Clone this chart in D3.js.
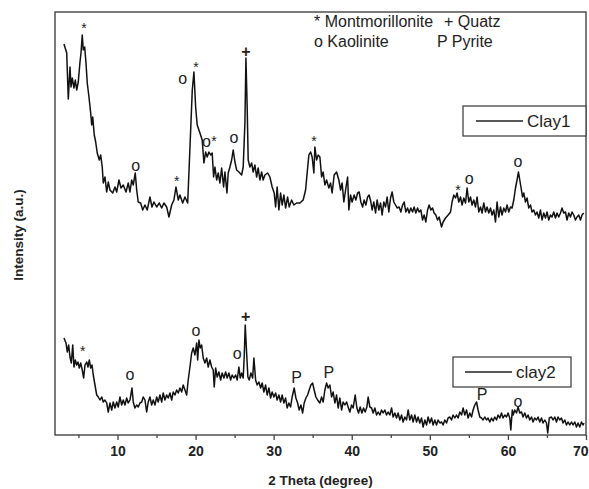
<!DOCTYPE html>
<html>
<head>
<meta charset="utf-8">
<script src="https://cdn.jsdelivr.net/npm/d3@7/dist/d3.min.js"></script>
<style>
  body { margin: 0; background: #fff; }
  svg text { font-family: Arial, "Liberation Sans", sans-serif; fill: #222; }
</style>
</head>
<body>
<div id="chart"></div>
<script>
// XRD pattern, 2 theta vs intensity (a.u.)
var clay1 = [
  [3.15,391],[3.50,382],[3.70,336],[3.92,368],[4.05,348],[4.21,357],[4.43,347],[4.60,355],[4.78,345],[4.98,353],
  [5.20,373],[5.33,382],[5.49,400],[5.62,385],[5.80,388],[5.97,372],[6.13,352],[6.35,338],[6.57,322],[6.70,310],
  [6.83,318],[7.03,300],[7.21,293],[7.41,282],[7.67,275],[7.85,280],[8.05,268],[8.18,252],[8.40,258],[8.62,243],
  [8.82,253],[9.04,245],[9.39,242],[9.68,248],[9.90,243],[10.19,255],[10.45,247],[10.74,250],[11.09,243],[11.38,252],
  [11.60,243],[11.82,255],[12.02,250],[12.28,262],[12.46,245],[12.66,233],[12.97,232],[13.23,225],[13.52,230],[13.81,225],
  [14.16,238],[14.42,228],[14.67,233],[15.02,228],[15.35,232],[15.66,227],[15.95,232],[16.30,228],[16.59,218],[16.94,230],
  [17.23,235],[17.49,248],[17.79,235],[18.00,240],[18.35,232],[18.64,238],[18.99,232],[19.15,262],[19.41,312],[19.58,345],
  [19.79,363],[20.01,328],[20.21,310],[20.56,302],[20.85,295],[21.07,272],[21.29,283],[21.49,278],[21.71,283],[21.93,280],
  [22.13,282],[22.31,258],[22.48,268],[22.70,255],[22.90,262],[23.12,252],[23.34,267],[23.59,248],[23.76,263],[24.02,242],
  [24.18,262],[24.40,268],[24.62,275],[24.82,285],[25.04,273],[25.26,265],[25.55,263],[25.90,260],[26.10,268],[26.32,312],
  [26.45,377],[26.61,328],[26.74,275],[26.96,268],[27.18,272],[27.38,263],[27.60,270],[27.82,258],[28.02,267],[28.24,255],
  [28.46,263],[28.66,255],[28.88,260],[29.23,262],[29.52,258],[29.81,248],[30.07,242],[30.25,228],[30.45,248],[30.67,225],
  [30.89,242],[31.09,230],[31.31,240],[31.53,227],[31.79,238],[31.99,228],[32.30,235],[32.59,230],[32.94,232],[33.36,232],
  [33.78,235],[34.09,245],[34.29,262],[34.51,280],[34.73,283],[34.93,278],[35.15,262],[35.28,288],[35.50,275],[35.70,280],
  [35.92,278],[36.14,258],[36.34,263],[36.56,250],[36.78,255],[37.07,247],[37.29,252],[37.49,242],[37.75,260],[38.06,263],
  [38.35,255],[38.57,245],[38.77,252],[38.99,233],[39.25,247],[39.47,258],[39.63,225],[39.85,240],[40.05,233],[40.31,240],
  [40.53,235],[40.75,242],[40.95,243],[41.17,233],[41.39,228],[41.59,235],[41.81,230],[42.03,238],[42.23,240],[42.45,233],
  [42.61,225],[42.83,233],[43.05,222],[43.25,235],[43.47,225],[43.69,232],[43.89,220],[44.11,233],[44.33,228],[44.53,238],
  [44.75,223],[44.97,237],[45.17,243],[45.39,233],[45.61,230],[45.81,227],[46.07,228],[46.29,223],[46.51,230],[46.71,233],
  [46.93,223],[47.15,227],[47.35,222],[47.57,227],[47.79,223],[47.99,228],[48.21,222],[48.43,227],[48.63,223],[48.85,225],
  [49.07,215],[49.27,220],[49.49,213],[49.71,225],[49.91,230],[50.13,225],[50.35,227],[50.55,222],[50.77,220],[50.99,215],
  [51.19,218],[51.50,208],[51.70,213],[52.01,217],[52.35,220],[52.65,223],[52.85,233],[53.07,240],[53.29,237],[53.49,242],
  [53.71,233],[53.93,238],[54.13,230],[54.35,237],[54.57,232],[54.77,247],[54.99,233],[55.21,238],[55.41,230],[55.63,235],
  [55.85,228],[56.05,238],[56.27,223],[56.49,228],[56.69,222],[56.91,232],[57.13,223],[57.33,228],[57.55,222],[57.77,227],
  [57.97,220],[58.19,225],[58.41,213],[58.61,233],[58.83,218],[59.05,228],[59.25,220],[59.47,227],[59.69,223],[59.89,230],
  [60.11,223],[60.33,228],[60.53,227],[60.75,235],[60.97,247],[61.17,255],[61.35,263],[61.52,255],[61.69,247],[61.87,238],
  [62.03,242],[62.25,233],[62.45,237],[62.67,227],[62.89,230],[63.09,223],[63.31,225],[63.53,220],[63.73,223],[63.95,217],
  [64.17,225],[64.37,215],[64.59,222],[64.81,217],[65.01,223],[65.23,215],[65.45,220],[65.65,218],[65.87,223],[66.09,217],
  [66.29,222],[66.51,218],[66.73,222],[66.93,227],[67.15,222],[67.37,223],[67.57,215],[67.79,222],[68.01,218],[68.21,223],
  [68.43,220],[68.65,215],[68.85,218],[69.07,220],[69.29,215],[69.49,220],[69.71,222]
];

var clay2 = [
  [3.15,97],[3.41,92],[3.57,83],[3.75,90],[3.92,78],[4.09,72],[4.27,90],[4.43,68],[4.60,75],[4.78,70],
  [4.94,73],[5.11,67],[5.29,72],[5.49,65],[5.67,57],[5.84,70],[6.06,73],[6.22,68],[6.39,75],[6.57,67],
  [6.74,70],[6.90,60],[7.12,50],[7.34,40],[7.54,38],[7.76,35],[7.98,38],[8.18,33],[8.40,35],[8.62,32],
  [8.82,23],[9.04,32],[9.26,25],[9.46,33],[9.68,27],[9.90,33],[10.10,28],[10.32,38],[10.54,30],[10.74,35],
  [10.96,30],[11.18,37],[11.38,32],[11.60,35],[11.86,47],[12.02,33],[12.24,27],[12.46,30],[12.66,28],[12.88,32],
  [13.10,33],[13.30,38],[13.52,35],[13.74,23],[13.94,33],[14.16,38],[14.38,30],[14.58,35],[14.80,30],[15.02,38],
  [15.22,33],[15.44,40],[15.66,33],[15.86,42],[16.08,35],[16.30,40],[16.50,37],[16.72,42],[16.94,35],[17.14,43],
  [17.36,40],[17.58,45],[17.78,42],[18.00,47],[18.22,43],[18.42,50],[18.64,45],[18.86,40],[19.06,55],[19.28,68],
  [19.50,82],[19.70,87],[19.92,80],[20.14,92],[20.27,75],[20.43,95],[20.60,87],[20.78,90],[20.98,77],[21.20,72],
  [21.42,77],[21.62,68],[21.84,75],[22.06,68],[22.26,65],[22.39,48],[22.57,67],[22.77,58],[22.99,63],[23.21,55],
  [23.41,62],[23.63,57],[23.85,63],[24.05,57],[24.27,62],[24.49,55],[24.69,60],[24.91,57],[25.13,60],[25.33,55],
  [25.55,68],[25.72,57],[25.90,62],[26.10,57],[26.23,78],[26.36,110],[26.54,82],[26.70,58],[26.87,55],[27.09,62],
  [27.31,57],[27.47,77],[27.69,55],[27.89,50],[28.11,53],[28.33,47],[28.53,52],[28.75,43],[28.97,50],[29.17,40],
  [29.39,47],[29.61,37],[29.81,43],[30.03,38],[30.25,42],[30.45,35],[30.67,40],[30.89,33],[31.09,40],[31.31,32],
  [31.53,37],[31.73,27],[31.95,32],[32.17,28],[32.37,38],[32.63,47],[32.85,37],[33.07,32],[33.27,25],[33.49,30],
  [33.71,22],[33.91,32],[34.13,37],[34.35,40],[34.55,45],[34.77,50],[34.99,52],[35.19,45],[35.41,38],[35.63,35],
  [35.92,32],[36.14,38],[36.34,33],[36.56,45],[36.78,52],[36.98,47],[37.20,50],[37.42,38],[37.62,43],[37.84,32],
  [38.06,40],[38.26,27],[38.48,37],[38.70,25],[38.90,33],[39.12,30],[39.34,33],[39.54,28],[39.76,23],[39.98,30],
  [40.18,27],[40.44,40],[40.66,27],[40.87,22],[41.08,28],[41.30,22],[41.51,27],[41.72,23],[41.94,28],[42.10,38],
  [42.32,28],[42.54,27],[42.74,22],[42.96,27],[43.18,20],[43.38,23],[43.60,20],[43.82,25],[44.02,22],[44.24,25],
  [44.46,20],[44.66,23],[44.88,20],[45.10,27],[45.30,18],[45.52,22],[45.74,17],[45.94,22],[46.16,15],[46.38,20],
  [46.58,13],[46.80,18],[47.02,15],[47.22,25],[47.44,15],[47.66,20],[47.86,13],[48.08,20],[48.30,13],[48.50,18],
  [48.72,12],[48.94,17],[49.14,8],[49.36,15],[49.58,10],[49.78,18],[50.00,12],[50.22,17],[50.42,10],[50.64,15],
  [50.86,10],[51.06,15],[51.28,12],[51.50,13],[51.70,10],[51.92,15],[52.14,12],[52.34,17],[52.56,18],[52.78,15],
  [52.98,20],[53.20,17],[53.42,20],[53.62,17],[53.84,23],[54.06,20],[54.26,27],[54.48,20],[54.70,25],[54.90,17],
  [55.12,22],[55.34,18],[55.54,25],[55.76,30],[55.98,33],[56.18,25],[56.40,18],[56.62,17],[56.82,15],[57.04,18],
  [57.26,15],[57.46,17],[57.68,13],[57.90,17],[58.10,14],[58.32,18],[58.54,15],[58.74,20],[58.96,17],[59.18,22],
  [59.38,17],[59.60,20],[59.82,18],[60.02,22],[60.24,17],[60.37,5],[60.56,25],[60.67,20],[60.88,25],[61.10,22],
  [61.30,28],[61.52,22],[61.74,23],[61.94,18],[62.16,22],[62.38,17],[62.58,20],[62.80,15],[63.02,18],[63.22,13],
  [63.44,17],[63.66,15],[63.86,18],[64.08,13],[64.30,17],[64.50,12],[64.72,15],[64.94,12],[65.10,2],[65.30,17],
  [65.58,18],[65.78,15],[66.00,18],[66.22,13],[66.42,18],[66.64,15],[66.86,17],[67.06,12],[67.28,15],[67.50,10],
  [67.70,13],[67.92,10],[68.14,13],[68.34,10],[68.56,13],[68.78,8],[68.98,12],[69.20,8],[69.42,13],[69.62,10],[69.75,12]
];

// phase labels placed above the peaks
var clay1Peaks = [
  {t: 5.7, i: 410, s: "*"}, {t: 12.33, i: 268, s: "o"}, {t: 17.58, i: 257, s: "*"},
  {t: 18.35, i: 355, s: "o"}, {t: 20.05, i: 371, s: "*"}, {t: 21.4, i: 292, s: "o"},
  {t: 22.35, i: 297, s: "*"}, {t: 24.91, i: 296, s: "o"}, {t: 26.45, i: 384, s: "+"},
  {t: 35.15, i: 297, s: "*"}, {t: 53.62, i: 248, s: "*"}, {t: 55.03, i: 255, s: "o"},
  {t: 61.3, i: 272, s: "o"}
];
var clay2Peaks = [
  {t: 5.55, i: 87, s: "*"}, {t: 11.6, i: 59, s: "o"}, {t: 20.05, i: 103, s: "o"},
  {t: 25.33, i: 80, s: "o"}, {t: 26.41, i: 119, s: "+"}, {t: 32.93, i: 58, s: "P"},
  {t: 37.07, i: 63, s: "P"}, {t: 56.69, i: 41, s: "P"}, {t: 61.3, i: 32, s: "o"}
];

var xTicks = [10, 20, 30, 40, 50, 60, 70];
var xMinorTicks = [5, 15, 25, 35, 45, 55, 65];
var phaseKey = [["* Montmorillonite", "+ Quatz"], ["o Kaolinite", "P Pyrite"]];
var seriesNames = ["Clay1", "clay2"];

var width = 589, height = 489;
var margin = {top: 12, right: 3, bottom: 54, left: 55};

var svg = d3.select("#chart").append("svg")
    .attr("width", width)
    .attr("height", height);

var x = d3.scaleLinear().domain([2, 70]).range([margin.left, width - margin.right]);
var y = d3.scaleLinear().domain([0, 423]).range([height - margin.bottom, margin.top]);

var line = d3.line()
    .x(d => x(d[0]))
    .y(d => y(d[1]));

[clay1, clay2].forEach(function (data) {
    svg.append("path")
        .datum(data)
        .attr("fill", "none")
        .attr("stroke", "#111")
        .attr("stroke-width", 1.5)
        .attr("stroke-linejoin", "round")
        .attr("d", line);
});

// frame
svg.append("rect")
    .attr("x", margin.left)
    .attr("y", margin.top)
    .attr("width", width - margin.right - margin.left)
    .attr("height", height - margin.bottom - margin.top)
    .attr("fill", "none")
    .attr("stroke", "#444")
    .attr("stroke-width", 1.4);

// x axis
var xAxis = svg.append("g")
    .attr("transform", "translate(0," + (height - margin.bottom) + ")")
    .call(d3.axisBottom(x).tickValues(xTicks).tickSize(5).tickPadding(6));
xAxis.select(".domain").remove();
xAxis.selectAll("line").attr("stroke", "#444").attr("stroke-width", 1.3);
xAxis.selectAll("text")
    .attr("font-size", 14)
    .attr("font-weight", "bold")
    .attr("font-family", "Arial, 'Liberation Sans', sans-serif")
    .attr("fill", "#333");
// last label would run past the right edge
xAxis.selectAll("text").filter(d => d == 70)
    .attr("text-anchor", "end")
    .attr("dx", 2);

svg.append("g")
    .attr("transform", "translate(0," + (height - margin.bottom) + ")")
    .call(d3.axisBottom(x).tickValues(xMinorTicks).tickSize(3).tickFormat(""))
    .call(g => g.select(".domain").remove())
    .selectAll("line").attr("stroke", "#444").attr("stroke-width", 1.3);

svg.append("text")
    .text("2 Theta (degree)")
    .attr("text-anchor", "middle")
    .attr("x", (margin.left + width - margin.right) / 2)
    .attr("y", 485)
    .attr("font-size", 13.5)
    .attr("font-weight", "bold");

svg.append("text")
    .text("Intensity (a.u.)")
    .attr("text-anchor", "middle")
    .attr("transform", "translate(23,235) rotate(-90)")
    .attr("font-size", 13.5)
    .attr("font-weight", "bold");

// peak symbols
function drawPeaks(peaks) {
    svg.selectAll(null)
        .data(peaks)
        .enter().append("text")
        .text(d => d.s)
        .attr("x", d => x(d.t))
        .attr("y", d => y(d.i))
        .attr("text-anchor", "middle")
        .attr("dominant-baseline", "central")
        .attr("font-size", d => d.s == "*" ? 14 : 16)
        .attr("dy", d => d.s == "*" ? 3 : (d.s == "o" ? -2 : 0))
        .attr("font-weight", d => d.s == "+" ? "bold" : "normal");
}
drawPeaks(clay1Peaks);
drawPeaks(clay2Peaks);

// phase key at the top
var keyX = [[314, 444], [314, 437]];
phaseKey.forEach(function (row, r) {
    row.forEach(function (label, c) {
        svg.append("text")
            .text(label)
            .attr("x", keyX[r][c])
            .attr("y", 27 + r * 20)
            .attr("font-size", 16);
    });
});

// series legends
var legendBoxes = [
    {x: 463, y: 106, w: 123, h: 30, lx1: 476, lx2: 523, tx: 527},
    {x: 453, y: 357, w: 118, h: 30, lx1: 465, lx2: 512, tx: 516}
];
legendBoxes.forEach(function (b, k) {
    var g = svg.append("g");
    g.append("rect")
        .attr("x", b.x).attr("y", b.y)
        .attr("width", b.w).attr("height", b.h)
        .attr("fill", "#fff")
        .attr("stroke", "#444")
        .attr("stroke-width", 1.3);
    g.append("line")
        .attr("x1", b.lx1).attr("x2", b.lx2)
        .attr("y1", b.y + b.h / 2).attr("y2", b.y + b.h / 2)
        .attr("stroke", "#222")
        .attr("stroke-width", 1.4);
    g.append("text")
        .text(seriesNames[k])
        .attr("x", b.tx)
        .attr("y", b.y + b.h / 2 + 6)
        .attr("font-size", 17);
});
</script>
</body>
</html>
